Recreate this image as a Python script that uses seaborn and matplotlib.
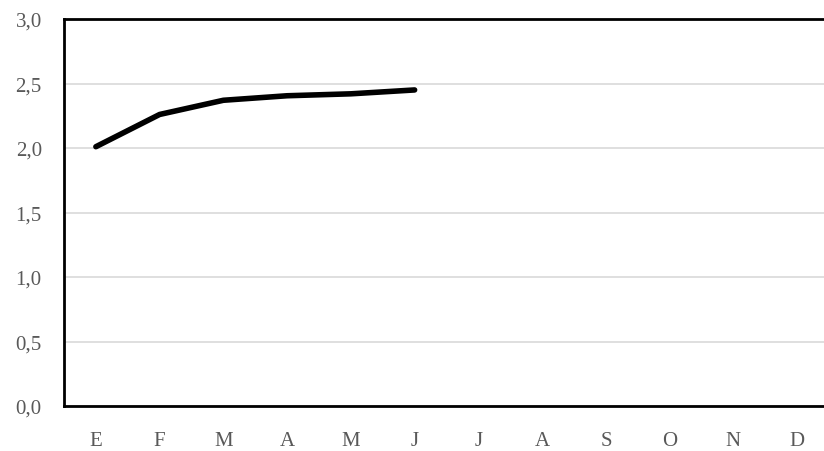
import matplotlib
matplotlib.use("Agg")
import matplotlib.pyplot as plt
import seaborn as sns
import pandas as pd
from matplotlib.ticker import FuncFormatter, MultipleLocator

months = ["E", "F", "M", "A", "M", "J", "J", "A", "S", "O", "N", "D"]
values = [2.01, 2.26, 2.37, 2.405, 2.42, 2.45]

sns.set_style("white")
plt.rcParams["font.family"] = ["Liberation Serif", "DejaVu Serif"]

fig = plt.figure(figsize=(8.24, 4.52), dpi=100)
ax = fig.add_axes([64 / 824, (452 - 407) / 452, (829 - 64) / 824, (407 - 20) / 452])

df = pd.DataFrame({"idx": range(len(values)), "val": values})
sns.lineplot(data=df, x="idx", y="val", ax=ax, color="black", linewidth=4,
             solid_capstyle="round", solid_joinstyle="round")

ax.set_xlim(-0.5, len(months) - 0.5)
ax.set_ylim(0, 3.0)
ax.yaxis.set_major_locator(MultipleLocator(0.5))
ax.yaxis.set_major_formatter(FuncFormatter(lambda v, p: f"{v:.1f}".replace(".", ",")))
ax.set_xticks(range(len(months)))
ax.set_xticklabels(months)
ax.set_xlabel("")
ax.set_ylabel("")

ax.grid(axis="y", color="#d9d9d9", linewidth=1.2)
ax.set_axisbelow(True)
for s in ["left", "top", "bottom", "right"]:
    ax.spines[s].set_color("black")
    ax.spines[s].set_linewidth(2)

ax.tick_params(axis="both", length=0, labelsize=15, colors="#595959")
ax.tick_params(axis="x", pad=18)
ax.tick_params(axis="y", pad=16)

fig.savefig("out.png", dpi=100)
